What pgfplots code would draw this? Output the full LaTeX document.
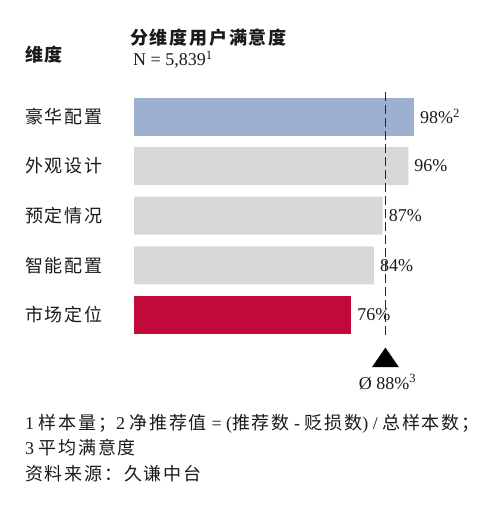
\documentclass[border=0pt]{standalone}
\usepackage{pgfplots}
\pgfplotsset{compat=1.18}
\usepackage{fontspec}
\setmainfont{Liberation Serif}
\newfontfamily\cjk{Noto Sans CJK SC}[LetterSpace=10]
\definecolor{txt}{HTML}{1A1A1A}
\definecolor{cblue}{HTML}{9DB0CF}
\definecolor{cgray}{HTML}{D7D8D8}
\definecolor{cred}{HTML}{C20A3A}
\newcommand\zh[1]{{\cjk #1}}
\newcommand\lat{\fontsize{18}{22}\selectfont}
\newcommand\zhs{\fontsize{18}{22}\selectfont}
\begin{document}
\begin{tikzpicture}[every node/.style={text=txt}]
\useasboundingbox (0,0) rectangle (500pt,513pt);
\begin{axis}[at={(134pt,173.2pt)}, anchor=south west, scale only axis,
  width=285.7pt, height=248.1pt, xmin=0, xmax=100, ymin=-0.5, ymax=4.5,
  axis lines=none, clip=false, bar width=38pt, bar shift=0pt,
  valbar/.style={xbar, draw=none, nodes near coords, point meta=explicit symbolic,
    every node near coord/.append style={anchor=west, inner sep=0pt, xshift=6pt, font=\lat, text=txt}}]
\addplot[valbar, fill=cblue] coordinates {(98,4) [98\%\textsuperscript{2}]};
\addplot[valbar, fill=cgray] coordinates {(96,3) [96\%] (87,2) [87\%] (84,1) [84\%]};
\addplot[valbar, fill=cred] coordinates {(76,0) [76\%]};
\addplot[sharp plot, no marks, draw=black!85, line width=1.8pt, dash pattern=on 9pt off 4pt] coordinates {(88,4.49) (88,-0.44)};
\addplot[only marks, mark=triangle*, mark size=15pt, mark options={yscale=0.84, fill=black, draw=black}] coordinates {(88,-0.919)};
\node[anchor=west, inner sep=0pt, xshift=-109pt, font=\zhs] at (axis cs:0,4) {\zh{豪华配置}};
\node[anchor=west, inner sep=0pt, xshift=-109pt, font=\zhs] at (axis cs:0,3) {\zh{外观设计}};
\node[anchor=west, inner sep=0pt, xshift=-109pt, font=\zhs] at (axis cs:0,2) {\zh{预定情况}};
\node[anchor=west, inner sep=0pt, xshift=-109pt, font=\zhs] at (axis cs:0,1) {\zh{智能配置}};
\node[anchor=west, inner sep=0pt, xshift=-109pt, font=\zhs] at (axis cs:0,0) {\zh{市场定位}};
\node[font=\lat, xshift=2pt] at (axis cs:88,-1.35) {Ø 88\%\textsuperscript{3}};
\end{axis}
\node[anchor=west, inner sep=0pt, font=\zhs\bfseries] at (25pt,458pt) {\zh{维度}};
\node[anchor=west, inner sep=0pt, font=\zhs\bfseries] at (130pt,475.5pt) {\zh{分维度用户满意度}};
\node[anchor=base west, font=\lat, inner sep=0pt] at (133pt,447pt) {N = 5,839\textsuperscript{1}};
\node[anchor=west, font=\zhs, inner sep=0pt] at (25pt,89pt) {1 \zh{样本量；}2 \zh{净推荐值} = (\zh{推荐数} - \zh{贬损数}) / \zh{总样本数；}};
\node[anchor=west, font=\zhs, inner sep=0pt] at (25pt,65pt) {3 \zh{平均满意度}};
\node[anchor=west, font=\zhs, inner sep=0pt] at (25pt,39pt) {\zh{资料来源：久谦中台}};
\end{tikzpicture}
\end{document}
